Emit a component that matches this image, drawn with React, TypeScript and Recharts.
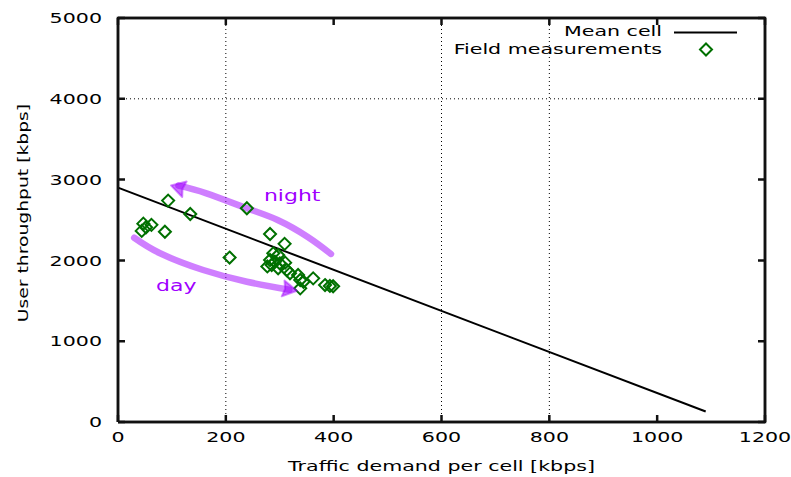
import React from 'react';
import {
  ComposedChart,
  XAxis,
  YAxis,
  Scatter,
  Line,
  ReferenceLine,
  ReferenceDot,
  Legend,
} from 'recharts';

// ---------- data ----------
const xTicks = [0, 200, 400, 600, 800, 1000, 1200];
const yTicks = [0, 1000, 2000, 3000, 4000, 5000];
const xGridValues = [200, 600, 800];
const yGridValues = [4000];
const xMax = 1200;
const yMax = 5000;

const meanCellX = [0, 1090];
const meanCellY = [2900, 130];

const fieldX = [93, 134, 239, 47, 62, 44, 52, 87, 207, 282, 309, 288, 297, 282, 291, 285, 300, 310, 297, 313, 319, 334, 338, 344, 362, 338, 384, 393, 399, 277];
const fieldY = [2740, 2574, 2645, 2455, 2440, 2365, 2410, 2355, 2035, 2327, 2205, 2088, 2067, 2005, 1984, 1943, 1964, 1972, 1902, 1881, 1840, 1819, 1757, 1736, 1778, 1654, 1695, 1684, 1680, 1925];

const nightArrowX = [395, 352, 296, 239, 164, 112];
const nightArrowY = [2080, 2290, 2500, 2645, 2830, 2925];
const dayArrowX = [30, 78, 158, 239, 318];
const dayArrowY = [2280, 2088, 1881, 1736, 1636];

const nightTip = { x: 100, y: 2925 };
const dayTip = { x: 330, y: 1625 };
const nightLabel = { x: 323, y: 2805, text: 'night' };
const dayLabel = { x: 108, y: 1696, text: 'day' };

const frameX = [0, xMax, xMax, 0, 0];
const frameY = [0, 0, yMax, yMax, 0];

const meanCellData = meanCellX.map((x, i) => ({ x, y: meanCellY[i] }));
const fieldData = fieldX.map((x, i) => ({ x, y: fieldY[i] }));
const nightData = nightArrowX.map((x, i) => ({ x, y: nightArrowY[i] }));
const dayData = dayArrowX.map((x, i) => ({ x, y: dayArrowY[i] }));
const frameData = frameX.map((x, i) => ({ x, y: frameY[i] }));

// ---------- layout ----------
const W = 791;
const H = 477;
const MARGIN = { top: 18, right: 26, bottom: 10, left: 48 };
const YAXIS_W = 70;
const XAXIS_H = 45;
const PLOT_RIGHT = W - MARGIN.right;
const PLOT_TOP = MARGIN.top;
const FONT = 'DejaVu Sans, Verdana, sans-serif';
const STRETCH = 1.42;
const FONT_SIZE = 14.5;
const TICK_LEN = 7;
const GREEN = '#007000';
const ARROW = '#a000ff';
const INK = '#000';
const FRAME = '#111';
const FRAME_W = 2.5;

function StretchText({ x, y, anchor = 'middle', rotate = 0, size = FONT_SIZE, fill = INK, children }: any) {
  return (
    <text
      transform={`translate(${x},${y}) rotate(${rotate}) scale(${STRETCH},1)`}
      textAnchor={anchor}
      dominantBaseline="central"
      fontFamily={FONT}
      fontSize={size}
      fill={fill}
    >
      {children}
    </text>
  );
}

function XTick(props: any) {
  const { x, y, payload } = props;
  return (
    <g>
      <path d={`M${x},${y} V${y - TICK_LEN} M${x},${PLOT_TOP} V${PLOT_TOP + TICK_LEN}`} stroke={FRAME} strokeWidth={FRAME_W} fill="none" />
      <StretchText x={x} y={y + 15}>{payload.value}</StretchText>
    </g>
  );
}

function YTick(props: any) {
  const { x, y, payload } = props;
  return (
    <g>
      <path d={`M${x},${y} H${x + TICK_LEN} M${PLOT_RIGHT},${y} H${PLOT_RIGHT - TICK_LEN}`} stroke={FRAME} strokeWidth={FRAME_W} fill="none" />
      <StretchText x={x - 16} y={y} anchor="end">{payload.value}</StretchText>
    </g>
  );
}

function Diamond(props: any) {
  const { cx, cy } = props;
  if (cx == null || cy == null) return null;
  const r = 6;
  return (
    <path
      d={`M${cx},${cy - r} L${cx + r},${cy} L${cx},${cy + r} L${cx - r},${cy} Z`}
      fill="none"
      stroke={GREEN}
      strokeWidth={2}
    />
  );
}

const arrowHead = (angle: number) => (props: any) => {
  const { cx, cy } = props;
  return (
    <path
      transform={`translate(${cx},${cy}) rotate(${angle})`}
      d="M1,0 L-13,-8 L-11,0 L-13,8 Z"
      fill={ARROW}
      fillOpacity={0.55}
      stroke={ARROW}
      strokeOpacity={0.45}
      strokeWidth={2}
      strokeLinejoin="round"
    />
  );
};

const labelShape = (text: string) => (props: any) => (
  <StretchText x={props.cx} y={props.cy} size={15.5} fill={ARROW}>{text}</StretchText>
);

function LegendContent() {
  return (
    <svg width={W} height={62} style={{ display: 'block' }}>
      <StretchText x={662} y={31} anchor="end">Mean cell</StretchText>
      <line x1={674} y1={32.5} x2={737} y2={32.5} stroke={INK} strokeWidth={2} />
      <StretchText x={662} y={49} anchor="end">Field measurements</StretchText>
      <Diamond cx={706} cy={49.5} />
    </svg>
  );
}

export default function App() {
  return (
    <div style={{ position: 'absolute', left: 0, top: 0, width: W, height: H, background: '#fff' }}>
      <ComposedChart width={W} height={H} margin={MARGIN}>
        <XAxis
          dataKey="x"
          type="number"
          domain={[0, xMax]}
          ticks={xTicks}
          interval={0}
          height={XAXIS_H}
          tickSize={0}
          tickMargin={0}
          tickLine={false}
          axisLine={{ stroke: FRAME, strokeWidth: FRAME_W }}
          tick={<XTick />}
          label={{
            content: (p: any) => {
              const vb = p.viewBox || {};
              return (
                <StretchText x={vb.x + vb.width / 2} y={vb.y + 44}>
                  Traffic demand per cell [kbps]
                </StretchText>
              );
            },
          }}
        />
        <YAxis
          dataKey="y"
          type="number"
          domain={[0, yMax]}
          ticks={yTicks}
          interval={0}
          width={YAXIS_W}
          tickSize={0}
          tickMargin={0}
          tickLine={false}
          axisLine={{ stroke: FRAME, strokeWidth: FRAME_W }}
          tick={<YTick />}
          label={{
            content: (p: any) => {
              const vb = p.viewBox || {};
              return (
                <StretchText x={24} y={vb.y + vb.height / 2 - 7} rotate={-90} size={13.2}>
                  User throughput [kbps]
                </StretchText>
              );
            },
          }}
        />
        {xGridValues.map((v) => (
          <ReferenceLine key={'gx' + v} x={v} stroke={INK} strokeWidth={1} strokeDasharray="1 3" />
        ))}
        {yGridValues.map((v) => (
          <ReferenceLine key={'gy' + v} y={v} stroke={INK} strokeWidth={1} strokeDasharray="1 3" />
        ))}
        <ReferenceLine x={xMax} stroke={FRAME} strokeWidth={FRAME_W} ifOverflow="visible" />
        <ReferenceLine y={yMax} stroke={FRAME} strokeWidth={FRAME_W} ifOverflow="visible" />
        <Line
          data={frameData}
          dataKey="y"
          type="linear"
          stroke={FRAME}
          strokeWidth={FRAME_W}
          dot={false}
          activeDot={false}
          legendType="none"
          isAnimationActive={false}
        />
        <Line
          data={meanCellData}
          dataKey="y"
          name="Mean cell"
          type="linear"
          stroke={INK}
          strokeWidth={2}
          dot={false}
          activeDot={false}
          isAnimationActive={false}
        />
        <Scatter
          data={fieldData}
          dataKey="y"
          name="Field measurements"
          shape={<Diamond />}
          isAnimationActive={false}
        />
        <Line
          data={nightData}
          dataKey="y"
          type="natural"
          stroke={ARROW}
          strokeOpacity={0.5}
          strokeWidth={6.5}
          strokeLinecap="round"
          dot={false}
          activeDot={false}
          legendType="none"
          isAnimationActive={false}
        />
        <Line
          data={dayData}
          dataKey="y"
          type="natural"
          stroke={ARROW}
          strokeOpacity={0.5}
          strokeWidth={6.5}
          strokeLinecap="round"
          dot={false}
          activeDot={false}
          legendType="none"
          isAnimationActive={false}
        />
        <ReferenceDot x={nightTip.x} y={nightTip.y} r={0} shape={arrowHead(196)} />
        <ReferenceDot x={dayTip.x} y={dayTip.y} r={0} shape={arrowHead(10)} />
        <ReferenceDot x={nightLabel.x} y={nightLabel.y} r={0} shape={labelShape(nightLabel.text)} />
        <ReferenceDot x={dayLabel.x} y={dayLabel.y} r={0} shape={labelShape(dayLabel.text)} />
        <Legend
          layout="horizontal"
          verticalAlign="middle"
          align="center"
          wrapperStyle={{ position: 'absolute', left: 0, top: 0, width: W, height: 62, pointerEvents: 'none' }}
          content={<LegendContent />}
        />
      </ComposedChart>
    </div>
  );
}
